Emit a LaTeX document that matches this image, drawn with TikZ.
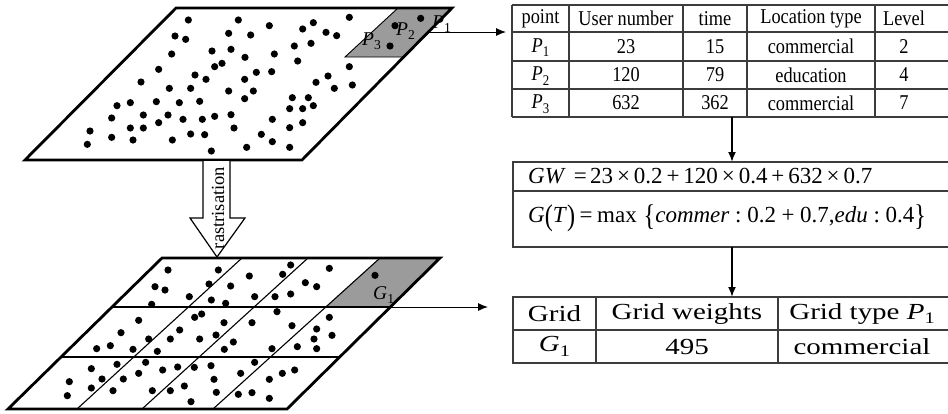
\documentclass[tikz,border=0pt]{standalone}
\usepackage{fontspec}
\usepackage{graphicx}
\setmainfont{Liberation Serif}
\usetikzlibrary{arrows.meta}
\definecolor{cellgray}{RGB}{155,155,155}
\definecolor{tline}{RGB}{60,60,60}
\newcommand\lsub[1]{\raisebox{-0.45ex}{\scalebox{0.7}{#1}}}
\newcommand\bop[1]{\hspace{0.24em}#1\hspace{0.24em}}
\newcommand\sop[1]{\hspace{0.17em}#1\hspace{0.17em}}
\newcommand\wide[1]{\scalebox{1.26}[1]{#1}}
\newcommand\tall[1]{\scalebox{0.94}[1.08]{#1}}
\newcommand\bigp[1]{\raisebox{-0.1em}{\scalebox{1.05}[1.3]{#1}}}
\begin{document}
\begin{tikzpicture}[x=1pt,y=-1pt,
  border/.style={line width=2.8pt,line join=miter},
  gridline/.style={line width=1.1pt},
  tabline/.style={line width=1.1pt,draw=tline},
  hconn/.style={line width=1pt,-{Latex[length=10pt,width=8pt]}},
  vconn/.style={line width=1.8pt,-{Latex[length=10pt,width=8pt]}},
  ttxt/.style={font=\fontsize{19.5}{21}\selectfont,inner sep=0pt},
  ftxt/.style={font=\fontsize{23}{25}\selectfont,inner sep=0pt,anchor=west},
  btxt/.style={font=\fontsize{23}{25}\selectfont,inner sep=0pt},
  plab/.style={font=\fontsize{19.5}{21}\selectfont,inner sep=0pt,anchor=base west},
]
\useasboundingbox (0,0) rectangle (948,413);

% ---------- top point layer ----------
\fill[cellgray] (398,8) -- (452,8) -- (403,57) -- (345,57) -- cycle;
\draw[line width=0.9pt] (398,8) -- (345,57) -- (403,57);
\foreach \x/\y in {565/60, 715/60, 808/77, 908/87, 940/68, 978/97, 1010/107, 1048/52,
 525/108, 557/118, 686/100, 752/105, 883/138, 933/130,
 515/162, 636/153, 693/148, 735/172, 823/162, 893/183,
 644/200, 666/190, 1048/200,
 476/208, 585/225, 618/238, 734/238, 769/217, 815/215,
 984/228, 948/247, 1003/265, 1057/255,
 423/246, 508/265, 572/265, 686/273, 760/273, 734/296,
 877/293, 925/293,
 351/317, 391/308, 469/305, 538/308, 599/304,
 869/326, 908/326, 940/317,
 335/354, 430/345, 476/368, 504/345, 549/358, 607/358, 644/349, 693/344, 817/358,
 908/368, 869/383,
 270/393, 391/384, 430/384, 702/384,
 262/433, 335/412, 399/420, 517/420, 572/402, 614/404, 784/403, 817/425,
 634/453, 740/442, 869/442,
 1185/77, 1262/55, 1170/138}
 \fill ({\x/3},{\y/3}) circle (3.6pt);
\draw[border] (176,8) -- (452,8) -- (302,160) -- (25,160) -- cycle;
\node[plab] (lp1) at (432,28) {\textit{P}\lsub{1}};
\node[plab] (lp2) at (396,35) {\textit{P}\lsub{2}};
\node[plab] (lp3) at (362,45) {\textit{P}\lsub{3}};

% ---------- rastrisation arrow ----------
\filldraw[fill=white,line width=1.2pt,line join=miter]
  (203,161) -- (203,218) -- (190,218) -- (217,257) -- (245,218) -- (230,218) -- (230,161);
\node[rotate=90,font=\fontsize{18.5}{20}\selectfont,inner sep=0pt] (rlab) at (218,208) {rastrisation};

% ---------- bottom grid layer ----------
\fill[cellgray] (380,258) -- (440,258) -- (390,307) -- (326,307) -- cycle;
\foreach \x/\y in {504/360, 655/360, 748/378, 872/345, 848/373, 988/355, 1125/376,
 465/410, 495/420, 627/402, 692/408, 916/398, 950/410,
 568/440, 634/450, 677/460, 764/440, 825/440, 872/432,
 455/463,
 831/485, 584/502, 605/492, 416/511, 672/518, 756/518, 988/502,
 363/548, 539/540, 648/555, 876/527, 950/537, 996/556,
 446/567, 511/567, 599/567, 700/576, 942/567,
 290/596, 331/587, 399/598, 472/604, 673/598, 816/596, 892/590, 950/596,
 274/656, 351/643, 437/637, 488/660, 533/651, 583/652, 633/647, 764/637, 884/660, 847/670,
 208/695, 306/687, 370/687, 416/670, 642/688, 722/670, 808/688,
 202/737, 274/714, 339/722, 457/722, 511/722, 553/708, 649/727, 573/755, 715/733, 756/728, 808/745}
 \fill ({\x/3},{150+\y/3}) circle (3.6pt);
\draw[gridline] (112,307) -- (390,307);
\draw[gridline] (61,357) -- (340,357);
\draw[gridline] (242,258) -- (77,409);
\draw[gridline] (308,258) -- (142,409);
\draw[gridline] (380,258) -- (213,409);
\draw[border] (162,258) -- (440,258) -- (287,409) -- (8,409) -- cycle;
\node[plab] (lg1) at (373,299) {\textit{G}\lsub{1}};

% ---------- top table ----------
\foreach \yy in {5,32,61,89,117} \draw[tabline] (512,\yy) -- (948,\yy);
\foreach \xx in {512,569,683,747,875} \draw[tabline] (\xx,5) -- (\xx,117);
\node[ttxt] (h1) at (540.5,18.5) {\tall{point}};
\node[ttxt] (h2) at (626,18.5) {\tall{User number}};
\node[ttxt] (h3) at (715,18.5) {\tall{time}};
\node[ttxt] (h4) at (811,18.5) {\tall{Location type}};
\node[ttxt] (h5) at (904,18.5) {\tall{Level}};
\node[ttxt] (a1) at (540.5,47.5) {\tall{\textit{P}\lsub{1}}};
\node[ttxt] (a2) at (626,46.5) {\tall{23}};
\node[ttxt] (a3) at (715,46.5) {\tall{15}};
\node[ttxt] (a4) at (811,46.5) {\tall{commercial}};
\node[ttxt] (a5) at (904,46.5) {\tall{2}};
\node[ttxt] (b1) at (540.5,76) {\tall{\textit{P}\lsub{2}}};
\node[ttxt] (b2) at (626,75) {\tall{120}};
\node[ttxt] (b3) at (715,75) {\tall{79}};
\node[ttxt] (b4) at (811,75) {\tall{education}};
\node[ttxt] (b5) at (904,75) {\tall{4}};
\node[ttxt] (c1) at (540.5,104) {\tall{\textit{P}\lsub{3}}};
\node[ttxt] (c2) at (626,103) {\tall{632}};
\node[ttxt] (c3) at (715,103) {\tall{362}};
\node[ttxt] (c4) at (811,103) {\tall{commercial}};
\node[ttxt] (c5) at (904,103) {\tall{7}};

% ---------- formula box ----------
\draw[tabline] (948,162) -- (513,162) -- (513,247) -- (948,247);
\draw[tabline] (513,191) -- (948,191);
\node[ftxt] (f1) at (528,176.5) {\textit{GW}\hspace{0.35em}=\hspace{0.15em}23\sop{×}0.2\sop{+}120\sop{×}0.4\sop{+}632\sop{×}0.7};
\node[ftxt] (f2) at (528,218) {\textit{G}\bigp{(}\textit{T}\bigp{)}\hspace{0.2em}=\hspace{0.2em}max\hspace{0.3em}\bigp{\{}\textit{commer}\hspace{0.25em}:\hspace{0.25em}0.2\bop{+}0.7,\textit{edu}\hspace{0.25em}:\hspace{0.25em}0.4\bigp{\}}};

% ---------- bottom table ----------
\draw[tabline] (948,297) -- (513,297) -- (513,363) -- (948,363);
\draw[tabline] (513,330) -- (948,330);
\draw[tabline] (596,297) -- (596,363);
\draw[tabline] (778,297) -- (778,363);
\node[btxt] (g1) at (554.5,313.5) {\wide{Grid}};
\node[btxt] (g2) at (687,313.5) {\wide{Grid weights}};
\node[btxt] (g3) at (862,313.5) {\wide{Grid type \textit{P}\lsub{1}}};
\node[btxt] (k1) at (554.5,346.5) {\wide{\textit{G}\lsub{1}}};
\node[btxt] (k2) at (687,346.5) {\wide{495}};
\node[btxt] (k3) at (862,346.5) {\wide{commercial}};

% ---------- connectors ----------
\coordinate (p1out) at (428,32);
\coordinate (tabin) at (506,32);
\coordinate (tabbot) at (732,117);
\coordinate (fbtop) at (732,162);
\coordinate (fbbot) at (732,247);
\coordinate (bttop) at (732,297);
\coordinate (g1out) at (390,307);
\coordinate (btin) at (488,307);
\draw[hconn] (p1out) -- (tabin);
\draw[vconn] (tabbot) -- (fbtop);
\draw[vconn] (fbbot) -- (bttop);
\draw[hconn] (g1out) -- (btin);
\end{tikzpicture}
\end{document}
